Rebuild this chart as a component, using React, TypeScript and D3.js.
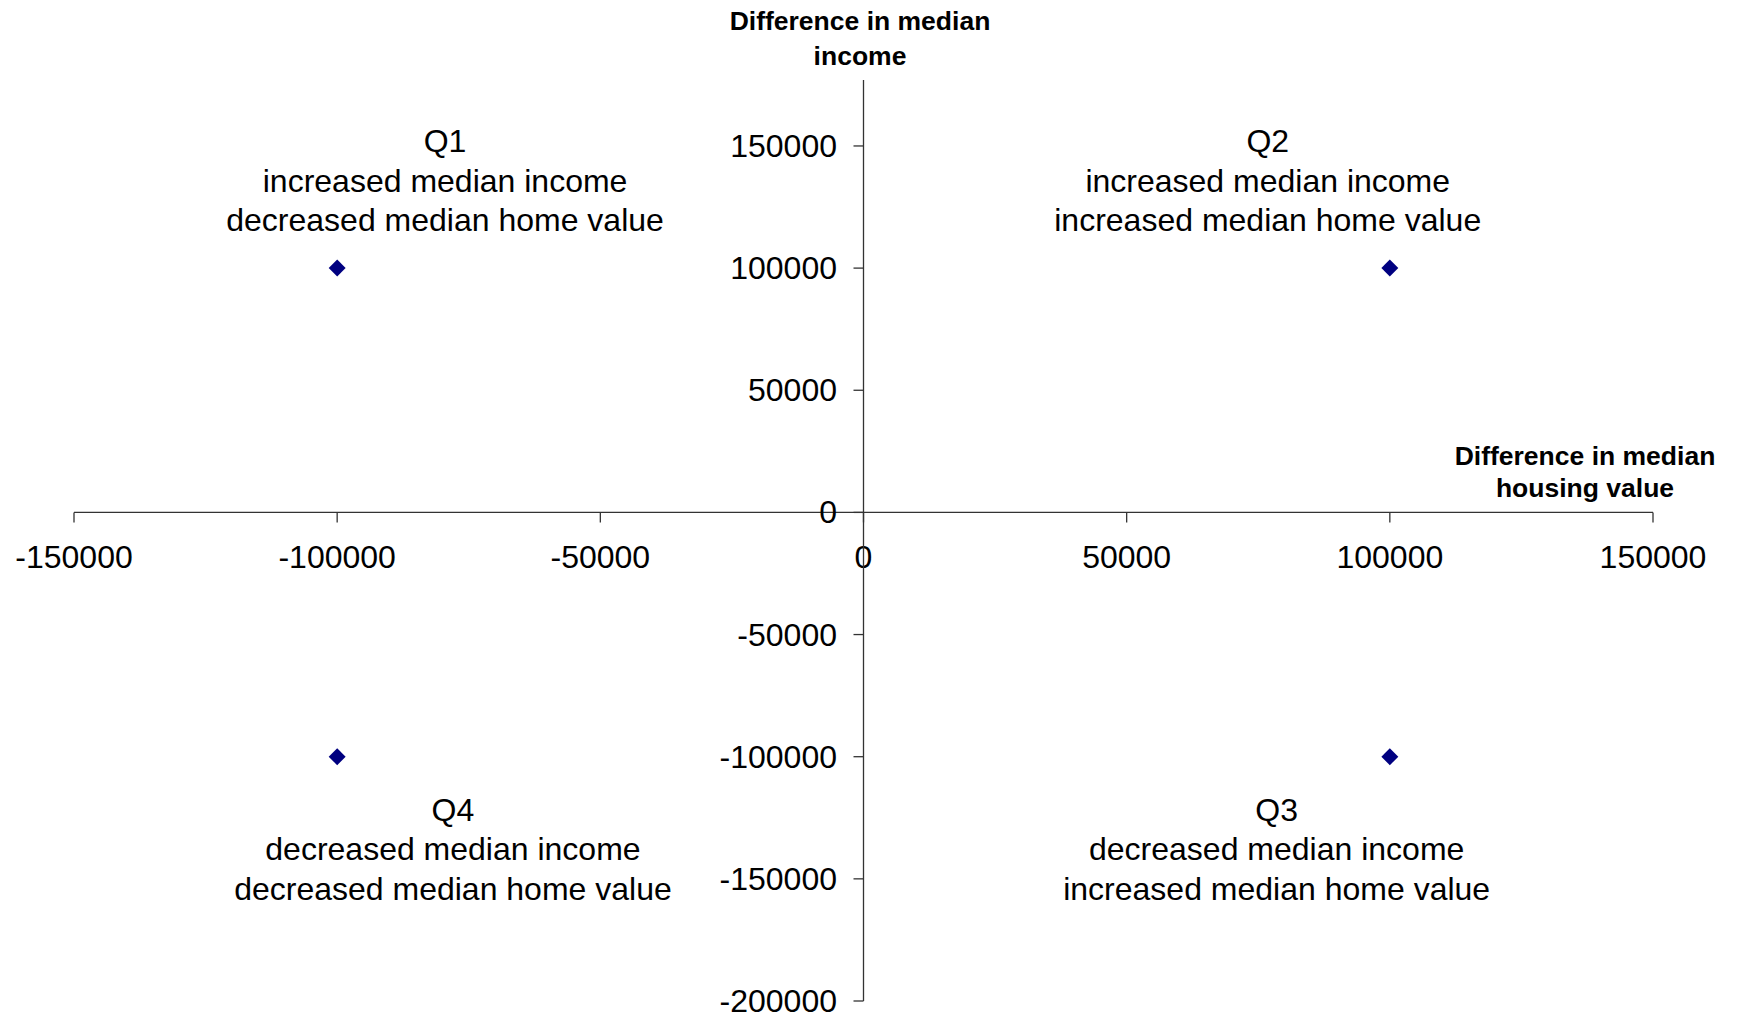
import React from "react";
import * as d3 from "d3";

const xTicks = [-150000, -100000, -50000, 0, 50000, 100000, 150000];
const yTicks = [150000, 100000, 50000, 0, -50000, -100000, -150000, -200000];
const pointsX = [-100000, 100000, -100000, 100000];
const pointsY = [100000, 100000, -100000, -100000];

const quadrantNames = ["Q1", "Q2", "Q3", "Q4"];
const quadrantIncome = [
  "increased median income",
  "increased median income",
  "decreased median income",
  "decreased median income",
];
const quadrantHome = [
  "decreased median home value",
  "increased median home value",
  "increased median home value",
  "decreased median home value",
];
const quadrantAnchorX = [-79500, 76800, 78500, -78000];
const quadrantAnchorY = [147500, 147500, -126300, -126300];

const yTitleLines = ["Difference in median", "income"];
const xTitleLines = ["Difference in median", "housing value"];

const W = 1742;
const H = 1017;

export default function App() {
  const x = d3.scaleLinear().domain([-150000, 150000]).range([74, 1653]);
  const y = d3.scaleLinear().domain([-200000, 177000]).range([1001, 80]);
  const x0 = x(0);
  const y0 = y(0);
  const font = "'Liberation Sans', Arial, sans-serif";
  const axisColor = "#333";
  const marker = d3.symbol(d3.symbolSquare, 144)();

  return (
    <svg
      width={W}
      height={H}
      style={{ position: "absolute", left: 0, top: 0, background: "#fff" }}
      fontFamily={font}
    >
      {/* x axis */}
      <line x1={x(-150000)} x2={x(150000)} y1={y0} y2={y0} stroke={axisColor} strokeWidth={1.3} />
      {xTicks.map((t) => (
        <g key={"xt" + t}>
          <line x1={x(t)} x2={x(t)} y1={y0} y2={y0 + 10} stroke={axisColor} strokeWidth={1.3} />
          <text x={x(t)} y={568} textAnchor="middle" fontSize={32} fill="#000">
            {t}
          </text>
        </g>
      ))}
      {/* y axis */}
      <line x1={x0} x2={x0} y1={y(177000)} y2={y(-200000)} stroke={axisColor} strokeWidth={1.3} />
      {yTicks.map((t) => (
        <g key={"yt" + t}>
          <line x1={x0 - 10} x2={x0} y1={y(t)} y2={y(t)} stroke={axisColor} strokeWidth={1.3} />
          <text x={837} y={y(t) + 11} textAnchor="end" fontSize={32} fill="#000">
            {t}
          </text>
        </g>
      ))}
      {/* axis titles */}
      <text textAnchor="middle" fontSize={26.5} fontWeight="bold" fill="#000">
        {yTitleLines.map((l, i) => (
          <tspan key={i} x={860} y={30 + i * 35}>
            {l}
          </tspan>
        ))}
      </text>
      <text textAnchor="middle" fontSize={26.5} fontWeight="bold" fill="#000">
        {xTitleLines.map((l, i) => (
          <tspan key={i} x={1585} y={465 + i * 32}>
            {l}
          </tspan>
        ))}
      </text>
      {/* quadrant labels */}
      {quadrantNames.map((q, i) => (
        <text key={q} textAnchor="middle" fontSize={32} fill="#000">
          {[q, quadrantIncome[i], quadrantHome[i]].map((l, j) => (
            <tspan key={j} x={x(quadrantAnchorX[i])} y={y(quadrantAnchorY[i]) + j * 39.5}>
              {l}
            </tspan>
          ))}
        </text>
      ))}
      {/* points */}
      {pointsX.map((px, i) => (
        <path
          key={"p" + i}
          d={marker || ""}
          transform={`translate(${x(px)},${y(pointsY[i])}) rotate(45)`}
          fill="#000080"
        />
      ))}
    </svg>
  );
}
